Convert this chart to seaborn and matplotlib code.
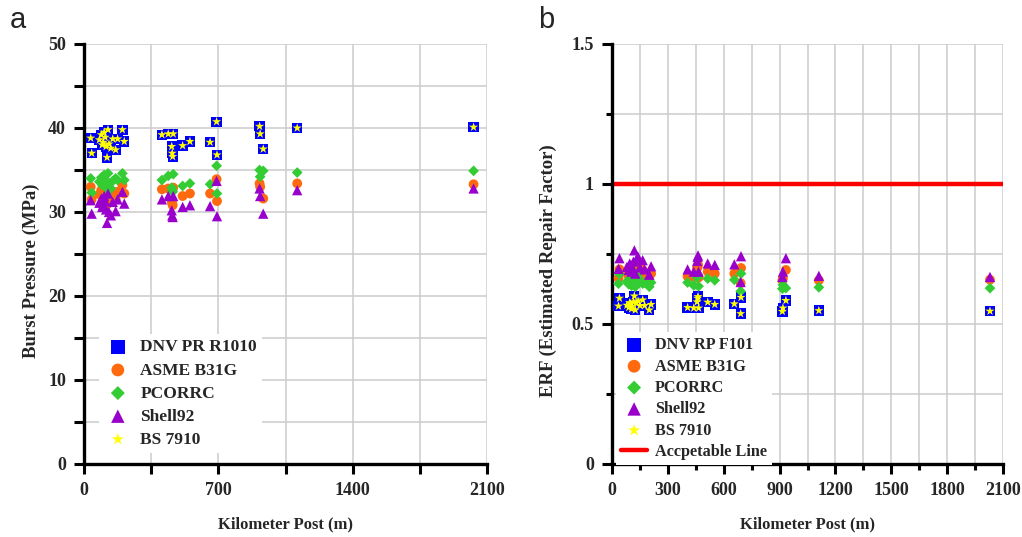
import matplotlib
matplotlib.use("Agg")
import matplotlib.pyplot as plt
import seaborn as sns
import pandas as pd
from matplotlib.ticker import MultipleLocator, FuncFormatter

# Defect locations along the pipeline (m)
kilometer_post = [35, 40, 80, 90, 95, 100, 105, 110, 115, 120, 125, 130, 140, 150, 165, 175, 200, 210,
                  406, 439, 457, 460, 462, 465, 514, 552,
                  657, 691, 693,
                  915, 918, 934,
                  1111, 2030]

# Burst pressure predictions (MPa)
dnv_pressure = [38.8, 37.0, 38.6, 39.2, 38.0, 38.3, 39.5, 38.9, 37.8, 36.5, 39.8, 38.1, 37.6, 38.7, 37.4, 38.7, 39.8, 38.4,
                39.2, 39.3, 37.8, 37.0, 36.6, 39.3, 37.9, 38.4,
                38.3, 40.75, 36.8,
                40.2, 39.3, 37.5,
                40.0, 40.1]
asme_pressure = [33.0, 31.5, 32.1, 32.6, 31.9, 32.2, 32.9, 32.5, 31.6, 30.9, 33.1, 31.8, 31.4, 32.4, 31.6, 32.4, 33.2, 32.2,
                 32.7, 32.8, 31.3, 31.0, 30.8, 32.9, 31.9, 32.2,
                 32.2, 33.9, 31.3,
                 33.4, 33.0, 31.6,
                 33.4, 33.3]
pcorrc_pressure = [34.0, 32.3, 33.6, 34.1, 33.2, 33.5, 34.4, 33.9, 32.9, 32.0, 34.6, 33.3, 32.8, 33.7, 34.0, 33.8, 34.6, 33.8,
                   33.8, 34.3, 32.9, 32.6, 32.4, 34.5, 33.1, 33.4,
                   33.3, 35.5, 32.2,
                   35.0, 34.2, 34.9,
                   34.7, 34.9]
shell92_pressure = [31.4, 29.8, 31.1, 31.6, 30.6, 30.9, 31.9, 31.3, 30.3, 28.7, 32.2, 30.0, 29.6, 31.2, 30.1, 31.5, 32.4, 31.0,
                    31.5, 31.9, 30.2, 29.6, 29.4, 31.9, 30.6, 30.8,
                    30.7, 33.7, 29.5,
                    32.8, 31.9, 29.8,
                    32.6, 32.8]
bs7910_pressure = [38.8, 37.0, 38.6, 39.2, 38.0, 38.3, 39.5, 38.9, 37.8, 36.5, 39.8, 38.1, 37.6, 38.7, 37.4, 38.7, 39.8, 38.4,
                   39.2, 39.3, 37.8, 37.0, 36.6, 39.3, 37.9, 38.4,
                   38.3, 40.75, 36.8,
                   40.2, 39.3, 37.5,
                   40.0, 40.1]

# Estimated repair factors
dnv_erf = [0.564, 0.592, 0.567, 0.559, 0.576, 0.572, 0.554, 0.563, 0.579, 0.600, 0.550, 0.575, 0.582, 0.566, 0.586, 0.566, 0.550, 0.570,
           0.559, 0.557, 0.579, 0.592, 0.598, 0.557, 0.578, 0.570,
           0.572, 0.537, 0.595,
           0.545, 0.557, 0.584,
           0.548, 0.546]
asme_erf = [0.664, 0.695, 0.682, 0.672, 0.687, 0.680, 0.666, 0.674, 0.693, 0.709, 0.662, 0.689, 0.697, 0.676, 0.693, 0.676, 0.660, 0.680,
            0.670, 0.668, 0.700, 0.706, 0.711, 0.666, 0.687, 0.680,
            0.680, 0.646, 0.700,
            0.656, 0.664, 0.693,
            0.656, 0.658]
pcorrc_erf = [0.644, 0.678, 0.652, 0.642, 0.660, 0.654, 0.637, 0.646, 0.666, 0.684, 0.633, 0.658, 0.668, 0.650, 0.644, 0.648, 0.633, 0.648,
              0.648, 0.638, 0.666, 0.672, 0.676, 0.635, 0.662, 0.656,
              0.658, 0.617, 0.680,
              0.626, 0.640, 0.628,
              0.631, 0.628]
shell92_erf = [0.697, 0.735, 0.704, 0.693, 0.716, 0.709, 0.687, 0.700, 0.723, 0.763, 0.680, 0.730, 0.740, 0.702, 0.728, 0.695, 0.676, 0.706,
               0.695, 0.687, 0.725, 0.740, 0.745, 0.687, 0.716, 0.711,
               0.713, 0.650, 0.742,
               0.668, 0.687, 0.735,
               0.672, 0.668]
bs7910_erf = [0.564, 0.592, 0.567, 0.559, 0.576, 0.572, 0.554, 0.563, 0.579, 0.600, 0.550, 0.575, 0.582, 0.566, 0.586, 0.566, 0.550, 0.570,
              0.559, 0.557, 0.579, 0.592, 0.598, 0.557, 0.578, 0.570,
              0.572, 0.537, 0.595,
              0.545, 0.557, 0.584,
              0.548, 0.546]

# Acceptance limit
accept_post = [0, 2100]
accept_erf = [1.0, 1.0]

pressure_labels = ["DNV PR R1010", "ASME B31G", "PCORRC", "Shell92", "BS 7910"]
erf_labels = ["DNV RP F101", "ASME B31G", "PCORRC", "Shell92", "BS 7910"]
accept_label = "Accpetable Line"

colors = ["#0000FF", "#FF6A0E", "#33CC33", "#9900CC", "#FFFF00"]
markers = ["s", "o", "D", "^", "*"]
sizes = [55, 50, 30, 55, 48]

sns.set_style("white")
plt.rcParams["font.family"] = ["Liberation Serif", "DejaVu Serif"]
plt.rcParams["font.weight"] = "bold"

fig = plt.figure(figsize=(10.22, 5.37), dpi=100)
ax1 = fig.add_axes([84 / 1022, 73 / 537, 403 / 1022, 420 / 537])
ax2 = fig.add_axes([612 / 1022, 73 / 537, 391 / 1022, 420 / 537])

grid_color = "#cccccc"
TICK_SIZE = 13
XLABEL_SIZE = 12
YLABEL_SIZE = 13.5


def draw_series(ax, series, labels):
    for vals, lab, col, mk, sz in zip(series, labels, colors, markers, sizes):
        df = pd.DataFrame({"post": kilometer_post, "value": vals})
        sns.scatterplot(data=df, x="post", y="value", ax=ax, marker=mk, s=sz,
                        color=col, edgecolor="none", linewidth=0, label=lab, zorder=3)


def style_axes(ax, xmajor, xminor, ymajor, yminor, ylim, minor_len):
    ax.set_xlim(0, 2100)
    ax.set_ylim(*ylim)
    ax.xaxis.set_major_locator(MultipleLocator(xmajor))
    ax.xaxis.set_minor_locator(MultipleLocator(xminor))
    ax.yaxis.set_major_locator(MultipleLocator(ymajor))
    ax.yaxis.set_minor_locator(MultipleLocator(yminor))
    ax.grid(True, which="both", color=grid_color, linewidth=1.1)
    ax.set_axisbelow(True)
    for side in ["top", "right"]:
        ax.spines[side].set_visible(False)
    for side in ["left", "bottom"]:
        ax.spines[side].set_linewidth(2.4)
        ax.spines[side].set_color("black")
    ax.tick_params(which="major", direction="out", length=7, width=2.2, color="black", pad=6,
                   bottom=True, left=True, labelsize=TICK_SIZE)
    ax.tick_params(which="minor", direction="out", length=minor_len, width=2.2, color="black",
                   bottom=True, left=True)
    ax.set_xlabel("Kilometer Post (m)", fontsize=XLABEL_SIZE, fontweight="bold", labelpad=12.5)


# Panel a: burst pressure
draw_series(ax1, [dnv_pressure, asme_pressure, pcorrc_pressure, shell92_pressure, bs7910_pressure],
            pressure_labels)
style_axes(ax1, 700, 350, 10, 5, (0, 50), 7)
ax1.set_ylabel("Burst Pressure (MPa)", fontsize=YLABEL_SIZE, fontweight="bold")
ax1.yaxis.set_label_coords(-0.11, 0.46)

# Panel b: estimated repair factor
draw_series(ax2, [dnv_erf, asme_erf, pcorrc_erf, shell92_erf, bs7910_erf], erf_labels)
sns.lineplot(x=accept_post, y=accept_erf, ax=ax2, color="#FF0000", linewidth=3.2,
             label=accept_label, zorder=2)
style_axes(ax2, 300, 150, 0.5, 0.25, (0, 1.5), 4)
ax2.yaxis.set_major_formatter(FuncFormatter(lambda v, p: f"{v:g}"))
ax2.set_ylabel("ERF (Estimated Repair Factor)", fontsize=YLABEL_SIZE, fontweight="bold")
ax2.yaxis.set_label_coords(-0.14, 0.46)

for ax in (ax1, ax2):
    for lab in ax.get_xticklabels() + ax.get_yticklabels():
        lab.set_fontweight("bold")

common_kw = dict(loc="upper left", frameon=True, facecolor="white", edgecolor="none",
                 framealpha=1, fancybox=False, handletextpad=0.5, borderpad=0.3,
                 markerscale=1.3, handlelength=1.6)
leg1 = ax1.legend(bbox_to_anchor=(0.015, 0.33), labelspacing=0.4,
                  prop=dict(family="Liberation Serif", weight="bold", size=12.5), **common_kw)
leg2 = ax2.legend(bbox_to_anchor=(-0.01, 0.333), labelspacing=0.33,
                  prop=dict(family="Liberation Serif", weight="bold", size=11.7), **common_kw)
for leg in (leg1, leg2):
    leg.set_zorder(5)

fig.text(10 / 1022, 1 - 20 / 537, "a", family="Liberation Sans", fontsize=21, va="center", ha="left",
         fontweight="normal")
fig.text(538 / 1022, 1 - 20 / 537, "b", family="Liberation Sans", fontsize=21, va="center", ha="left",
         fontweight="normal")

fig.savefig("out.png", dpi=100)
